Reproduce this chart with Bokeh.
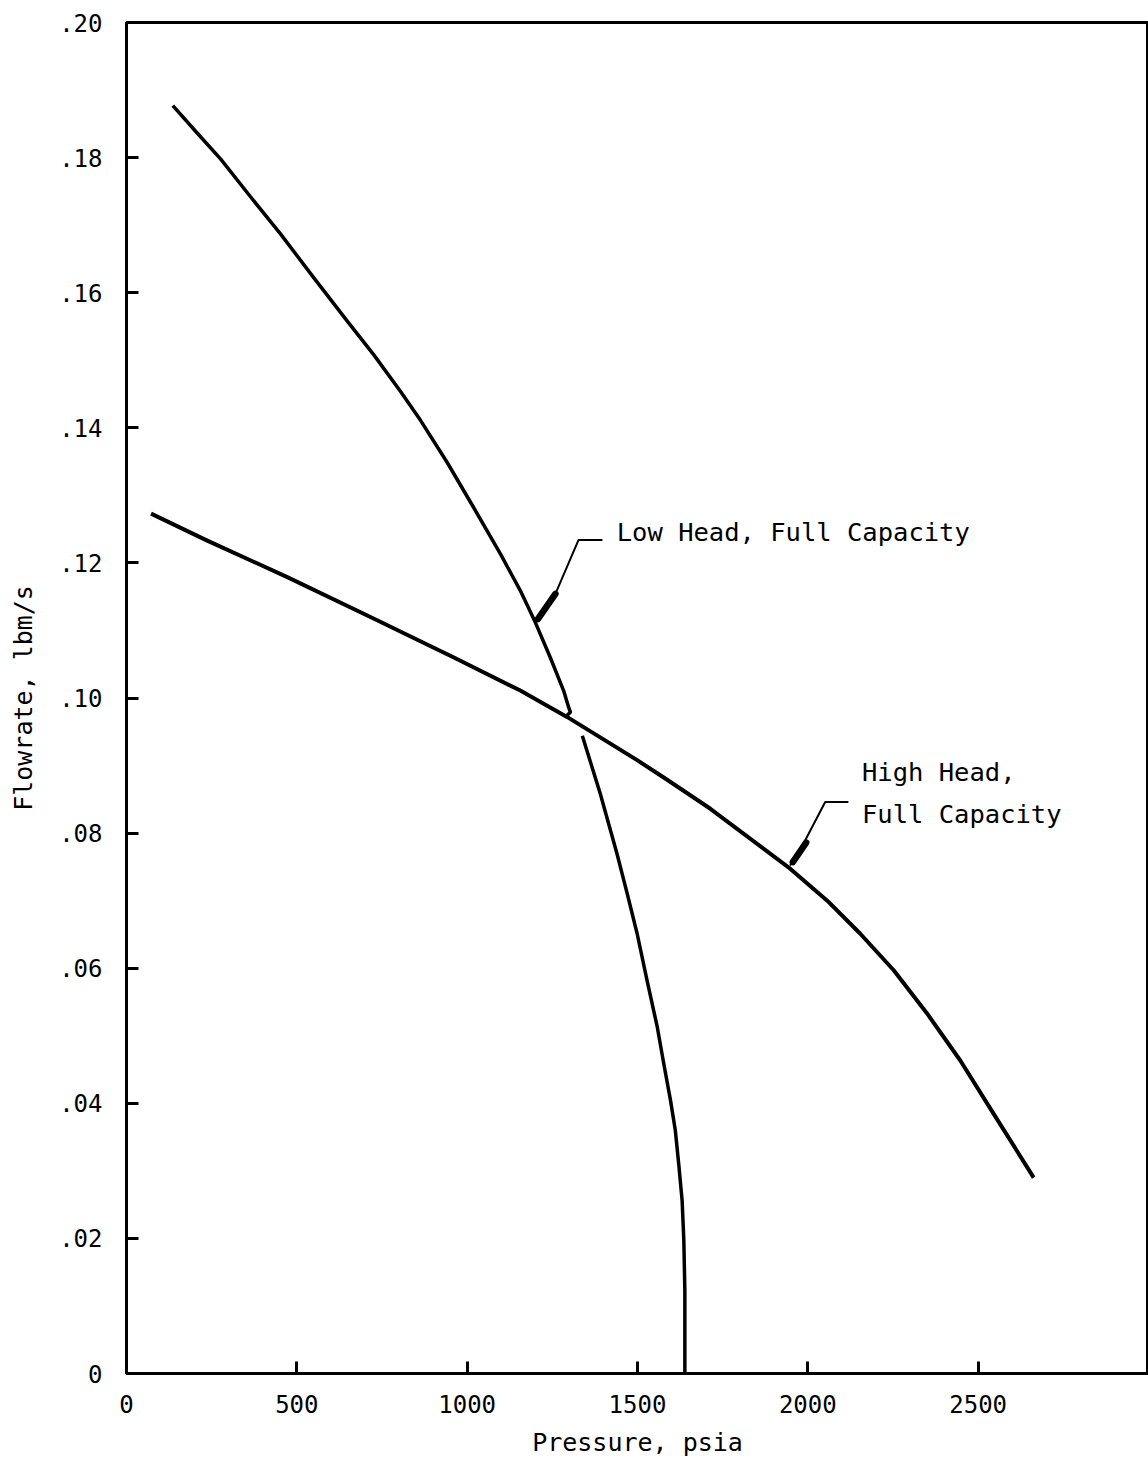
from bokeh.plotting import figure
from bokeh.models import FixedTicker, Label
from bokeh.embed import file_html
from bokeh.resources import INLINE

# ---- data ----
low_upper_p = [136, 208, 276, 364, 452, 550, 648, 726, 804, 863, 941, 1019, 1098,
               1156, 1200, 1244, 1283, 1298, 1303, 1293]
low_upper_f = [0.1877, 0.1836, 0.1798, 0.1742, 0.1687, 0.1622, 0.1558, 0.1508, 0.1454, 0.1411,
               0.1349, 0.1282, 0.1213, 0.1159, 0.1112, 0.1060, 0.1011, 0.0986, 0.0979, 0.0974]

low_lower_p = [1338, 1391, 1440, 1470, 1499, 1528, 1558, 1577, 1597, 1611, 1621, 1631,
               1636, 1639, 1639, 1639]
low_lower_f = [0.0944, 0.0858, 0.0769, 0.0710, 0.0651, 0.0582, 0.0513, 0.0459, 0.0404, 0.0360,
               0.0310, 0.0256, 0.0197, 0.0123, 0.0064, 0.0]

high_p = [72, 237, 472, 716, 961, 1156, 1293, 1499, 1587, 1714, 1949, 2057, 2154, 2252,
          2350, 2448, 2546, 2663]
high_f = [0.1273, 0.1233, 0.1179, 0.1120, 0.1060, 0.1011, 0.0972, 0.0908, 0.0879,
          0.0836, 0.0747, 0.0700, 0.0651, 0.0597, 0.0533, 0.0463, 0.0384, 0.0290]

x_ticks = [0, 500, 1000, 1500, 2000, 2500]
y_ticks = [0, 0.02, 0.04, 0.06, 0.08, 0.10, 0.12, 0.14, 0.16, 0.18, 0.20]
y_tick_labels = ["0", ".02", ".04", ".06", ".08", ".10", ".12", ".14", ".16", ".18", ".20"]

FONT = "DejaVu Sans Mono"

p = figure(width=1148, height=1470, x_range=(0, 3000), y_range=(0, 0.2),
           output_backend="svg", toolbar_location=None,
           min_border_left=126, min_border_right=0, min_border_top=22, min_border_bottom=97)

p.xgrid.visible = False
p.ygrid.visible = False
p.outline_line_color = "black"
p.outline_line_width = 3
p.background_fill_color = "white"
p.border_fill_color = "white"

for ax in (p.xaxis[0], p.yaxis[0]):
    ax.axis_line_width = 3
    ax.axis_line_color = "black"
    ax.major_tick_in = 12
    ax.major_tick_out = 0
    ax.major_tick_line_width = 3
    ax.minor_tick_line_color = None
    ax.major_label_text_font = FONT
    ax.major_label_text_font_size = "24px"
    ax.major_label_text_color = "black"
    ax.axis_label_text_font = FONT
    ax.axis_label_text_font_size = "25px"
    ax.axis_label_text_font_style = "normal"
    ax.axis_label_text_color = "black"

p.xaxis.ticker = FixedTicker(ticks=x_ticks)
p.xaxis.major_label_standoff = 21
p.xaxis.axis_label = "Pressure, psia"
p.xaxis.axis_label_standoff = 12
p.yaxis.ticker = FixedTicker(ticks=y_ticks)
p.yaxis.major_label_overrides = {t: l for t, l in zip(y_ticks, y_tick_labels)}
p.yaxis.major_label_standoff = 24
p.yaxis.axis_label = "Flowrate, lbm/s"
p.yaxis.axis_label_standoff = 18

# curves
p.line(low_upper_p, low_upper_f, line_color="black", line_width=3.5, line_join="round")
p.line(low_lower_p, low_lower_f, line_color="black", line_width=3.5, line_join="round")
p.line(high_p, high_f, line_color="black", line_width=4, line_join="round")

# leader lines (annotation positions)
low_leader_x = [1397, 1327, 1259, 1200]
low_leader_y = [0.1234, 0.1234, 0.1154, 0.1112]
p.line(low_leader_x, low_leader_y, line_color="black", line_width=2)
p.line([1259, 1208], [0.1154, 0.1117], line_color="black", line_width=6.5, line_cap="round")

high_leader_x = [2119, 2051, 1992, 1948]
high_leader_y = [0.0846, 0.0846, 0.0789, 0.0752]
p.line(high_leader_x, high_leader_y, line_color="black", line_width=2)
p.line([1995, 1956], [0.0786, 0.0757], line_color="black", line_width=6.5, line_cap="round")

def lab(x, y, text, **kw):
    p.add_layout(Label(x=x, y=y, text=text, text_font=FONT, text_font_size="25.5px",
                       text_color="black", **kw))

lab(1439, 0.1246, "Low Head, Full Capacity", text_baseline="middle", text_align="left")
lab(2159, 0.0891, "High Head,", text_baseline="middle", text_align="left")
lab(2159, 0.0829, "Full Capacity", text_baseline="middle", text_align="left")

open("out.html", "w").write(file_html(p, INLINE))
